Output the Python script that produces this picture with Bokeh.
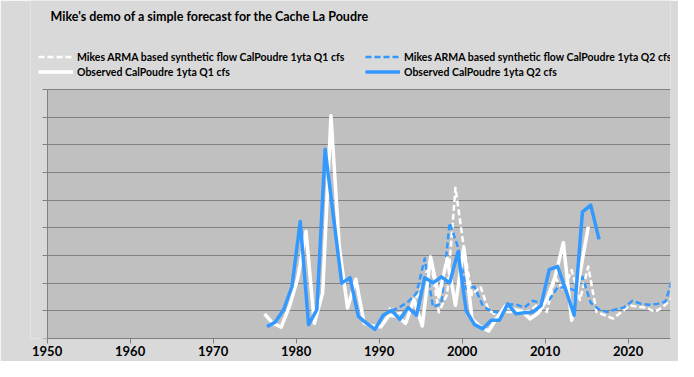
from bokeh.plotting import figure
from bokeh.models import (Range1d, FixedTicker, Legend, LegendItem, Label,
                          BoxAnnotation)
from bokeh.embed import file_html
from bokeh.resources import INLINE

title_text = "Mike's demo of a simple forecast for the Cache La Poudre"
label_syn_q1 = "Mikes ARMA based synthetic flow CalPoudre 1yta Q1 cfs"
label_syn_q2 = "Mikes ARMA based synthetic flow CalPoudre 1yta Q2 cfs"
label_obs_q1 = "Observed CalPoudre 1yta Q1 cfs"
label_obs_q2 = "Observed CalPoudre 1yta Q2 cfs"

x_ticks = [1950, 1960, 1970, 1980, 1990, 2000, 2010, 2020]
y_ticks = [0, 1, 2, 3, 4, 5, 6, 7, 8, 9]
x_min, x_max = 1950, 2025.1   # plot-area extent on the time axis
y_min, y_max = 0, 9           # plot-area extent on the value axis

# position of each quarter inside its year (decimal year)
q1_pos = 0.2
q2_pos = 0.5

obs_years_q1 = list(range(1976, 2016))
obs_q1 = [0.89, 0.55, 0.41, 1.16, 2.18, 3.87, 0.55, 1.64, 8.05, 3.33,
          1.10, 2.14, 0.55, 0.45, 0.42, 0.84, 0.80, 0.55, 1.40, 0.45,
          2.95, 1.50, 2.90, 1.20, 3.30, 0.70, 0.42, 0.27, 0.75, 1.17,
          1.05, 0.99, 0.71, 0.93, 1.40, 2.23, 3.46, 0.66, 2.35, 4.04]

obs_years_q2 = list(range(1976, 2017))
obs_q2 = [0.43, 0.60, 1.04, 1.88, 4.23, 0.50, 1.04, 6.84, 4.40, 2.00,
          2.20, 0.80, 0.55, 0.33, 0.84, 1.02, 0.69, 1.12, 0.84, 2.20,
          2.01, 2.23, 2.01, 3.13, 1.00, 0.50, 0.35, 0.66, 0.66, 1.25,
          0.89, 0.93, 0.95, 1.19, 2.49, 2.61, 1.75, 0.84, 4.58, 4.82,
          3.58]

syn_years = list(range(1991, 2026))
syn_q1 = [1.10, 0.90, 0.95, 1.30, 1.90, 2.85, 0.95, 1.60, 5.45, 3.30,
          1.57, 1.89, 1.02, 0.84, 0.96, 0.96, 0.96, 1.00, 1.26, 0.96,
          2.20, 1.75, 2.47, 1.39, 2.60, 0.96, 0.84, 0.72, 0.96, 1.20,
          1.14, 1.12, 0.96, 1.14, 1.45]
syn_q2 = [1.00, 1.14, 1.33, 1.63, 2.89, 1.14, 1.27, 4.18, 3.31, 1.80,
          1.87, 1.17, 0.99, 0.93, 1.24, 1.23, 1.12, 1.36, 1.29, 1.40,
          1.84, 1.84, 1.75, 2.23, 1.29, 1.05, 0.96, 1.05, 1.12, 1.36,
          1.26, 1.22, 1.25, 1.33, 2.30]

BLUE = "#3399ff"
CHART_BG = "#d9d9d9"
PLOT_BG = "#c0c0c0"
GRID = "#808080"
FONT = "Lato"

FRAME_W, FRAME_H = 640, 338
PX_PER_YEAR = 8.3
PX_PER_UNIT = 249 / 9
x_start = x_min - 2 * PX_PER_YEAR / PX_PER_YEAR  # room for legend/title at left
x_end = x_start + FRAME_W / PX_PER_YEAR
y_end = FRAME_H / PX_PER_UNIT

p = figure(frame_width=FRAME_W, frame_height=FRAME_H,
           min_border_left=30, min_border_right=8,
           min_border_top=0, min_border_bottom=23,
           x_range=Range1d(x_start, x_end), y_range=Range1d(0, y_end),
           output_backend="svg", toolbar_location=None,
           background_fill_color=CHART_BG, border_fill_color=CHART_BG,
           outline_line_color=None)

# plot-area background
p.add_layout(BoxAnnotation(left=x_min, right=x_max, bottom=y_min, top=y_max,
                           fill_color=PLOT_BG, fill_alpha=1, line_color=None,
                           level="image"))

# axes
p.xaxis.ticker = FixedTicker(ticks=x_ticks)
p.xaxis.bounds = (x_min, x_max)
p.yaxis.ticker = FixedTicker(ticks=y_ticks)
p.yaxis.bounds = (y_min, y_max)
p.yaxis.fixed_location = x_min
p.yaxis.major_label_overrides = {t: "" for t in y_ticks}
for ax in (p.xaxis, p.yaxis):
    ax.axis_line_color = GRID
    ax.axis_line_width = 1
    ax.major_tick_line_color = GRID
    ax.major_tick_out = 5
    ax.major_tick_in = 0
    ax.minor_tick_out = 0
    ax.minor_tick_in = 0
    ax.major_label_text_font = FONT
    ax.major_label_text_font_style = "bold"
    ax.major_label_text_font_size = "13px"
    ax.major_label_text_color = "black"
p.xaxis.major_label_standoff = 2
p.xgrid.grid_line_color = None
yg = p.ygrid[0]
yg.ticker = FixedTicker(ticks=y_ticks)
yg.grid_line_color = GRID
yg.grid_line_width = 1
yg.bounds = (y_min, y_max)
try:
    yg.cross_bounds = (x_min, x_max)
except Exception:
    pass

# series (drawn in legend order: last on top)
r_syn1 = p.line([y + q1_pos for y in syn_years], syn_q1, line_color="white",
                line_width=2.5, line_dash="6 3", line_join="round")
r_syn2 = p.line([y + q2_pos for y in syn_years], syn_q2, line_color=BLUE,
                line_width=2.5, line_dash="6 3", line_join="round")
r_obs1 = p.line([y + q1_pos for y in obs_years_q1], obs_q1, line_color="white",
                line_width=3.5, line_join="round")
r_obs2 = p.line([y + q2_pos for y in obs_years_q2], obs_q2, line_color=BLUE,
                line_width=3.5, line_join="round")

legend_style = dict(orientation="horizontal", padding=0, margin=0, spacing=0,
                    glyph_width=35, glyph_height=15, label_height=15,
                    label_width=288, label_standoff=4,
                    border_line_color=None, background_fill_alpha=0,
                    label_text_font=FONT, label_text_font_style="bold",
                    label_text_font_size="10.5px", label_text_color="black")
leg1 = Legend(items=[LegendItem(label=label_syn_q1, renderers=[r_syn1]),
                     LegendItem(label=label_syn_q2, renderers=[r_syn2])],
              location=(8, 273.8), **legend_style)
leg2 = Legend(items=[LegendItem(label=label_obs_q1, renderers=[r_obs1]),
                     LegendItem(label=label_obs_q2, renderers=[r_obs2])],
              location=(8, 258.8), **legend_style)
p.add_layout(leg1)
p.add_layout(leg2)

p.add_layout(Label(x=20, y=322, x_units="screen", y_units="screen",
                   text=title_text, text_font=FONT, text_font_style="bold",
                   text_font_size="12.5px", text_baseline="middle",
                   text_color="black"))

open("out.html", "w").write(file_html(p, INLINE))
